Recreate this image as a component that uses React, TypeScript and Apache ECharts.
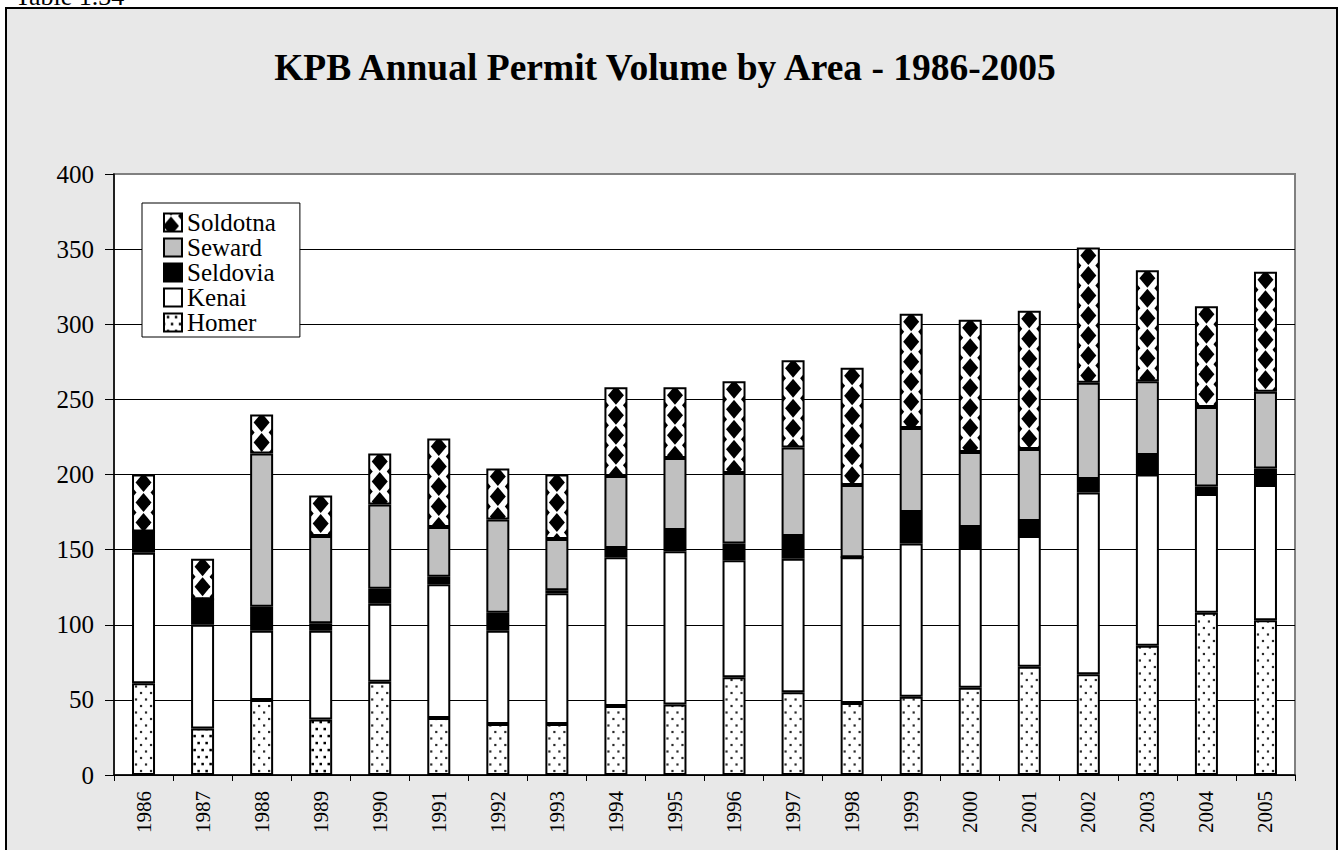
import React, { useEffect, useRef } from "react";
import * as echarts from "echarts";

const years = ["1986","1987","1988","1989","1990","1991","1992","1993","1994","1995","1996","1997","1998","1999","2000","2001","2002","2003","2004","2005"];
const homer = [61,31,50,37,62,38,34,34,46,47,65,55,48,52,58,72,67,86,108,103];
const kenai = [87,69,46,59,52,89,62,87,99,102,78,89,97,102,93,87,121,114,79,90];
const seldovia = [14,17,16,5,10,5,12,2,6,14,11,15,0,21,14,10,9,13,5,11];
const seward = [0,0,102,58,56,33,62,34,48,48,47,59,48,56,50,48,64,49,53,51];
const soldotna = [38,27,26,27,34,59,34,43,59,47,61,58,78,76,88,92,90,74,67,80];
const legendOrder = ["Soldotna","Seward","Seldovia","Kenai","Homer"];
const sparseHomerYears = ["1987","1989"];
const yMin = 0;
const yMax = 400;
const yStep = 50;

const FONT = "Liberation Serif";

const mod = (a: number, n: number) => ((a % n) + n) % n;

// tile whose repeating motif is phased so that a motif centre lands on (px, py) in page space
function makeTile(w: number, h: number, px: number, py: number, motif: (ctx: CanvasRenderingContext2D, x: number, y: number) => void) {
  const c = document.createElement("canvas");
  c.width = w;
  c.height = h;
  const ctx = c.getContext("2d")!;
  ctx.fillStyle = "#fff";
  ctx.fillRect(0, 0, w, h);
  const ox = mod(px, w);
  const oy = mod(py, h);
  for (let i = -1; i <= 1; i++) for (let j = -1; j <= 1; j++) motif(ctx, ox + i * w, oy + j * h);
  return c;
}

function diamondMotif(ctx: CanvasRenderingContext2D, x: number, y: number) {
  ctx.fillStyle = "#000";
  const d = (cx: number, cy: number) => {
    ctx.beginPath();
    ctx.moveTo(cx, cy - 9.5);
    ctx.lineTo(cx + 8, cy);
    ctx.lineTo(cx, cy + 9.5);
    ctx.lineTo(cx - 8, cy);
    ctx.closePath();
    ctx.fill();
  };
  d(x, y);
  d(x + 15, y + 10);
}
function dotMotif(ctx: CanvasRenderingContext2D, x: number, y: number) {
  ctx.fillStyle = "#2a2a2a";
  ctx.fillRect(x - 1.1, y - 1.1, 2.2, 2.2);
  ctx.fillRect(x + 3.9, y + 5.4, 2.2, 2.2);
}
function sparseMotif(ctx: CanvasRenderingContext2D, x: number, y: number) {
  ctx.fillStyle = "#000";
  ctx.fillRect(x - 1.2, y - 1.2, 2.5, 2.5);
  ctx.fillRect(x + 2.8, y + 5.8, 2.5, 2.5);
}

function pattern(tile: HTMLCanvasElement) {
  return { image: tile, repeat: "repeat", imageWidth: tile.width, imageHeight: tile.height } as any;
}

export default function App() {
  const ref = useRef<HTMLDivElement>(null);

  useEffect(() => {
    if (!ref.current) return;
    const chart = echarts.init(ref.current, undefined, { renderer: "svg" });

    const border = { borderColor: "#000", borderWidth: 2 };
    const names = ["Homer", "Kenai", "Seldovia", "Seward", "Soldotna"];
    const values = [homer, kenai, seldovia, seward, soldotna];
    const baseColors: any[] = [
      pattern(makeTile(10, 13, 0, 0, dotMotif)),
      "#ffffff",
      "#000000",
      "#c0c0c0",
      pattern(makeTile(30, 20, 0, 0, diamondMotif)),
    ];

    const gridLineColors = [] as string[];
    for (let v = yMin; v <= yMax; v += yStep) gridLineColors.push(v === yMax ? "#808080" : "#000000");

    const option: any = {
      animation: false,
      backgroundColor: "#ffffff",
      textStyle: { fontFamily: FONT, color: "#000" },
      title: {
        text: "KPB Annual Permit Volume by Area - 1986-2005",
        left: 660,
        top: 43,
        textAlign: "center",
        textStyle: { fontFamily: FONT, fontSize: 37.5, fontWeight: "bold", color: "#000" },
      },
      graphic: [
        {
          type: "rect",
          z: -10,
          silent: true,
          shape: { x: 6, y: 8, width: 1331, height: 860 },
          style: { fill: "#e8e8e8", stroke: "#000", lineWidth: 2 },
        },
        {
          type: "text",
          x: 15,
          y: -4,
          silent: true,
          style: { text: "Table 1.34", fontFamily: FONT, fontSize: 26, fill: "#000", verticalAlign: "middle" },
        },
      ],
      legend: {
        orient: "vertical",
        left: 142,
        top: 203,
        padding: [7, 24, 2, 21],
        itemGap: 0,
        itemWidth: 18,
        itemHeight: 18,
        icon: "rect",
        backgroundColor: "#fff",
        borderColor: "#000",
        borderWidth: 1,
        itemStyle: { borderColor: "#000", borderWidth: 2 },
        textStyle: { fontFamily: FONT, fontSize: 25, color: "#000", lineHeight: 25, padding: 0 },
        data: legendOrder.map((n) => ({ name: n })),
      },
      grid: {
        left: 114,
        top: 174,
        right: 45,
        bottom: 75,
        show: true,
        backgroundColor: "#ffffff",
        borderColor: "#808080",
        borderWidth: 2,
      },
      xAxis: {
        type: "category",
        data: years,
        axisLine: { lineStyle: { color: "#000", width: 1.5 } },
        axisTick: { show: true, length: 6, lineStyle: { color: "#000" } },
        axisLabel: { rotate: 90, fontFamily: FONT, fontSize: 21, color: "#000", margin: 16 },
        splitLine: { show: false },
      },
      yAxis: {
        type: "value",
        min: yMin,
        max: yMax,
        interval: yStep,
        axisLine: { show: true, lineStyle: { color: "#000", width: 1.5 } },
        axisTick: { show: true, length: 9, lineStyle: { color: "#000" } },
        axisLabel: { fontFamily: FONT, fontSize: 25, color: "#000", margin: 20 },
        splitLine: { show: true, lineStyle: { color: gridLineColors, width: 1 } },
      },
      series: names.map((n, i) => ({
        id: n,
        name: n,
        type: "bar",
        stack: "total",
        barWidth: 23,
        data: values[i],
        itemStyle: { color: baseColors[i], ...border },
        emphasis: { disabled: true },
      })),
    };

    chart.setOption(option);

    // per-bar pattern phase, positioned through the library's scales
    const homerData = homer.map((v, i) => {
      const cx = chart.convertToPixel({ xAxisIndex: 0 }, years[i]) as number;
      const base = chart.convertToPixel({ yAxisIndex: 0 }, 0) as number;
      const sparse = sparseHomerYears.includes(years[i]);
      const tile = sparse
        ? makeTile(8, 14, cx - 4, base - 4, sparseMotif)
        : makeTile(10, 13, cx - 2.5, base - 4, dotMotif);
      return { value: v, itemStyle: { color: pattern(tile) } };
    });
    const soldotnaData = soldotna.map((v, i) => {
      const cx = chart.convertToPixel({ xAxisIndex: 0 }, years[i]) as number;
      const total = homer[i] + kenai[i] + seldovia[i] + seward[i] + soldotna[i];
      const top = chart.convertToPixel({ yAxisIndex: 0 }, total) as number;
      const tile = makeTile(30, 20, cx, top + 8, diamondMotif);
      return { value: v, itemStyle: { color: pattern(tile) } };
    });

    // legend icon patterns, centred on the rendered icons
    const legendColors: Record<string, any> = {};
    const iconX = 142 + 21 + 9;
    const iconY0 = 203 + 7 + 12.5;
    legendColors["Soldotna"] = pattern(makeTile(30, 20, iconX, iconY0, diamondMotif));
    legendColors["Homer"] = pattern(makeTile(8, 14, iconX - 4, iconY0 + 4 * 25 - 4, sparseMotif));

    chart.setOption({
      legend: {
        data: legendOrder.map((n) => (legendColors[n] ? { name: n, itemStyle: { color: legendColors[n] } } : { name: n })),
      },
      series: [
        { id: "Homer", data: homerData },
        { id: "Soldotna", data: soldotnaData },
      ],
    });

    return () => chart.dispose();
  }, []);

  return <div ref={ref} style={{ position: "absolute", left: 0, top: 0, width: 1340, height: 850 }} />;
}
